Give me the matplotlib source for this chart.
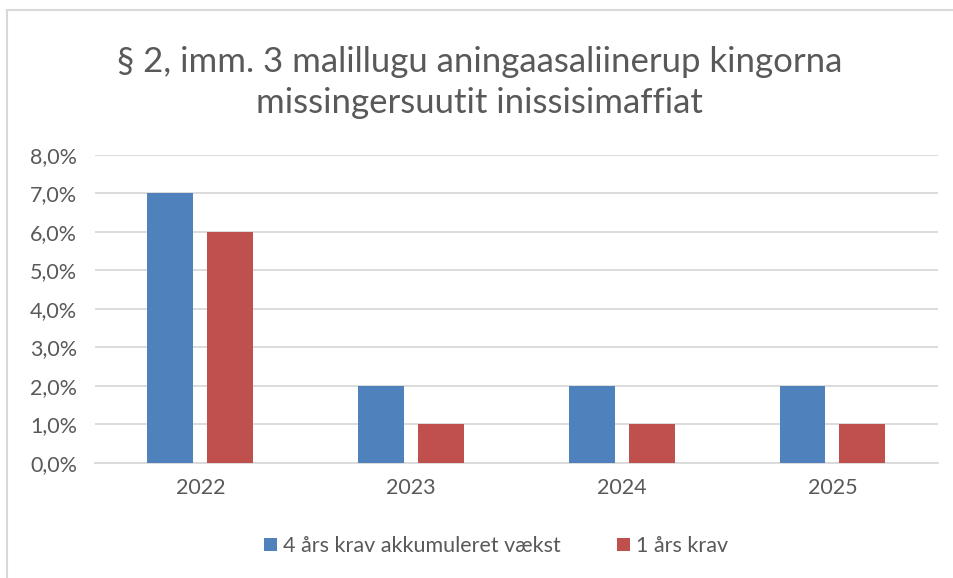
import matplotlib.pyplot as plt
import matplotlib.patches as mpatches
import numpy as np

plt.rcParams['font.family'] = ['Lato', 'DejaVu Sans']

years = ['2022', '2023', '2024', '2025']
akkumuleret = [7.0, 2.0, 2.0, 2.0]
et_aar = [6.0, 1.0, 1.0, 1.0]
series_names = ['4 års krav akkumuleret vækst', '1 års krav']
yticks = [0, 1, 2, 3, 4, 5, 6, 7, 8]

blue = '#4f81bd'
red = '#c0504d'
grey = '#595959'

fig = plt.figure(figsize=(9.54, 5.78), dpi=100)
ax = fig.add_axes([0.0996, 0.199, 0.8834, 0.533])

# frame of the chart box (top and left edges visible)
fig.patches.append(mpatches.Rectangle((7 / 954, -0.1), 1.2, 1 - 10 / 578 + 0.1,
                                      transform=fig.transFigure, fill=False,
                                      edgecolor='#d9d9d9', linewidth=1.5))

x = np.arange(len(years))
w = 0.218
off = 0.142
ax.bar(x - off, akkumuleret, w, color=blue, label=series_names[0], zorder=3)
ax.bar(x + off, et_aar, w, color=red, label=series_names[1], zorder=3)

ax.set_xlim(-0.5, 3.5)
ax.set_ylim(0, 8)
ax.set_yticks(yticks)
ax.set_yticklabels([f'{v:.1f}%'.replace('.', ',') for v in yticks])
ax.set_xticks(x)
ax.set_xticklabels(years)
ax.grid(axis='y', color='#d9d9d9', linewidth=1.3, zorder=0)
for s in ['top', 'right', 'left']:
    ax.spines[s].set_visible(False)
ax.spines['bottom'].set_color('#d9d9d9')
ax.spines['bottom'].set_linewidth(1.3)
ax.tick_params(length=0, labelsize=15.5, labelcolor=grey)
ax.tick_params(axis='y', pad=13)
ax.tick_params(axis='x', pad=11)

fig.text(0.503, 0.857, '§ 2, imm. 3 malillugu aningaasaliinerup kingorna\nmissingersuutit inissisimaffiat',
         ha='center', va='center', fontsize=25, color=grey, linespacing=1.32)

fig.legend(loc='center', bbox_to_anchor=(0.52, 0.055), ncol=2, frameon=False,
           fontsize=15.5, labelcolor=grey, handlelength=0.6, handleheight=0.6,
           handletextpad=0.3, columnspacing=2.6)

fig.savefig('out.png', dpi=100)
